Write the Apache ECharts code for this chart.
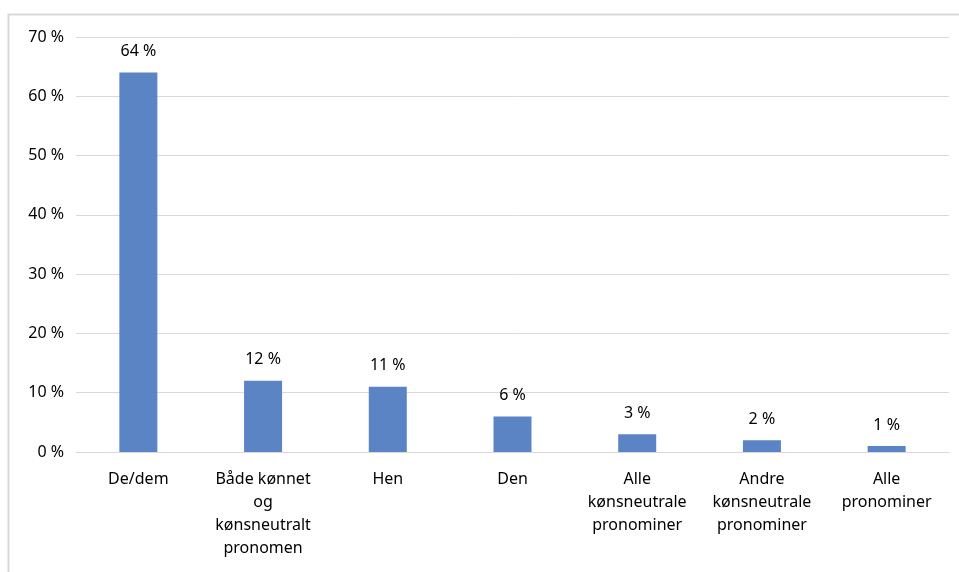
<!DOCTYPE html>
<html>
<head>
<meta charset="utf-8">
<script src="https://cdn.jsdelivr.net/npm/echarts@6/dist/echarts.min.js"></script>
<style>
html, body { margin: 0; padding: 0; background: #fff; }
#main { width: 959px; height: 572px; }
</style>
</head>
<body>
<div id="main"></div>
<script>
var categories = ['De/dem', 'Både kønnet\nog\nkønsneutralt\npronomen', 'Hen', 'Den',
	'Alle\nkønsneutrale\npronominer', 'Andre\nkønsneutrale\npronominer', 'Alle\npronominer'];
var values = [64, 12, 11, 6, 3, 2, 1];
var yTicks = [0, 10, 20, 30, 40, 50, 60, 70];

var myChart = echarts.init(document.getElementById('main'));

myChart.setOption({
	textStyle : { fontFamily : 'Noto Sans', color : '#000' },
	graphic : [ {
		type : 'rect',
		shape : { x : 8.5, y : 14.5, width : 1000, height : 700 },
		style : { fill : 'none', stroke : '#d9d9d9', lineWidth : 2 },
		silent : true
	} ],
	grid : { left : 76, right : 10, top : 37, bottom : 120, containLabel : false },
	xAxis : {
		type : 'category',
		data : categories,
		axisLine : { lineStyle : { color : '#d9d9d9' } },
		axisTick : { show : false },
		axisLabel : {
			interval : 0,
			margin : 16,
			fontSize : 16,
			lineHeight : 23,
			color : '#000',
			fontFamily : 'Noto Sans'
		}
	},
	yAxis : {
		type : 'value',
		min : yTicks[0],
		max : yTicks[yTicks.length - 1],
		interval : 10,
		axisLine : { show : false },
		axisTick : { show : false },
		splitLine : { lineStyle : { color : '#d9d9d9' } },
		axisLabel : {
			formatter : '{value} %',
			margin : 12,
			fontSize : 16,
			color : '#000',
			fontFamily : 'Noto Sans'
		}
	},
	series : [ {
		type : 'bar',
		data : values,
		barWidth : 38,
		itemStyle : { color : '#5b84c4' },
		label : {
			show : true,
			position : 'top',
			distance : 13,
			formatter : '{c} %',
			fontSize : 16,
			color : '#000',
			fontFamily : 'Noto Sans'
		}
	} ]
});
</script>
</body>
</html>
